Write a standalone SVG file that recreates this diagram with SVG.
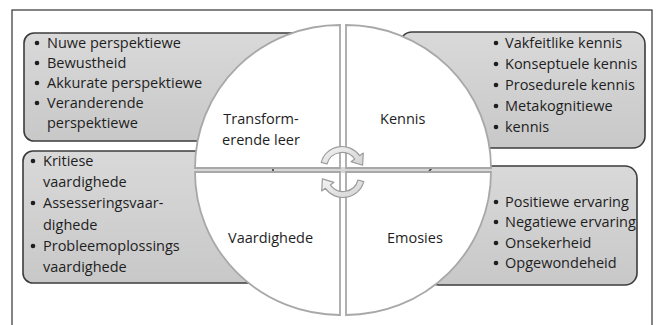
<svg xmlns="http://www.w3.org/2000/svg" width="657" height="325" viewBox="0 0 657 325">
  <defs>
    <linearGradient id="boxFill" x1="0" y1="0" x2="0" y2="1">
      <stop offset="0" stop-color="#d9d9d9"/>
      <stop offset="1" stop-color="#c8c8c8"/>
    </linearGradient>
    <linearGradient id="arrowFill" x1="0" y1="0" x2="1" y2="1">
      <stop offset="0" stop-color="#f4f4f4"/>
      <stop offset="1" stop-color="#d2d2d2"/>
    </linearGradient>
    <style>
      .frame { fill: #ffffff; stroke: #333333; stroke-width: 1.2; }
      .box { fill: url(#boxFill); stroke: #3c3c3c; stroke-width: 1.6; }
      .quad { fill: #ffffff; stroke: #a8a8a8; stroke-width: 1.8; }
      .gap { fill: #d6d6d6; }
      .cycle { fill: url(#arrowFill); stroke: #9c9c9c; stroke-width: 1.2; stroke-linejoin: round; }
      text { font-family: "Open Sans", "Liberation Sans", sans-serif; font-size: 14.5px; fill: #1e1e1e; }
      .mid { text-anchor: middle; }
      .dot { fill: #1e1e1e; }
    </style>
  </defs>

  <!-- outer frame, open at the bottom edge -->
  <rect class="frame" x="12" y="10" width="640" height="330"/>

  <!-- seam showing between the upper and lower halves of the circle -->
  <rect class="gap" x="195" y="167" width="297" height="6"/>

  <!-- detail boxes behind the circle -->
  <g id="box-transformerende-leer">
    <rect class="box" x="24" y="33" width="300" height="108" rx="10"/>
    <circle class="dot" cx="37" cy="43" r="2.3"/>
    <text x="47" y="48">Nuwe perspektiewe</text>
    <circle class="dot" cx="37" cy="63" r="2.3"/>
    <text x="47" y="68">Bewustheid</text>
    <circle class="dot" cx="37" cy="83" r="2.3"/>
    <text x="47" y="88">Akkurate perspektiewe</text>
    <circle class="dot" cx="37" cy="103" r="2.3"/>
    <text x="47" y="108">Veranderende</text>
    <text x="47" y="128">perspektiewe</text>
  </g>

  <g id="box-kennis">
    <rect class="box" x="400" y="32" width="245" height="116" rx="12"/>
    <circle class="dot" cx="496" cy="43" r="2.3"/>
    <text x="505" y="48">Vakfeitlike kennis</text>
    <circle class="dot" cx="496" cy="64" r="2.3"/>
    <text x="505" y="69">Konseptuele kennis</text>
    <circle class="dot" cx="496" cy="85" r="2.3"/>
    <text x="505" y="90">Prosedurele kennis</text>
    <circle class="dot" cx="496" cy="106" r="2.3"/>
    <text x="505" y="111">Metakognitiewe</text>
    <circle class="dot" cx="496" cy="127" r="2.3"/>
    <text x="505" y="132">kennis</text>
  </g>

  <g id="box-vaardighede">
    <rect class="box" x="23" y="151" width="250" height="132" rx="10"/>
    <circle class="dot" cx="33" cy="161" r="2.3"/>
    <text x="43" y="166">Kritiese</text>
    <text x="43" y="187">vaardighede</text>
    <circle class="dot" cx="33" cy="203" r="2.3"/>
    <text x="43" y="208">Assesseringsvaar-</text>
    <text x="43" y="230">dighede</text>
    <circle class="dot" cx="33" cy="246" r="2.3"/>
    <text x="43" y="251">Probleemoplossings</text>
    <text x="43" y="272">vaardighede</text>
  </g>

  <g id="box-emosies">
    <rect class="box" x="427" y="166" width="210" height="119" rx="12"/>
    <circle class="dot" cx="496" cy="202" r="2.3"/>
    <text x="505" y="207">Positiewe ervaring</text>
    <circle class="dot" cx="496" cy="222" r="2.3"/>
    <text x="505" y="227">Negatiewe ervaring</text>
    <circle class="dot" cx="496" cy="243" r="2.3"/>
    <text x="505" y="248">Onsekerheid</text>
    <circle class="dot" cx="496" cy="263" r="2.3"/>
    <text x="505" y="268">Opgewondeheid</text>
  </g>

  <!-- four quadrants of the circle -->
  <g id="transformerende-leer">
    <path class="quad" d="M340,168 L195,168 A145,143 0 0 1 340,25 Z"/>
    <text class="mid" x="261" y="124">Transform-</text>
    <text class="mid" x="261" y="145">erende leer</text>
  </g>
  <g id="kennis">
    <path class="quad" d="M346,168 L346,25 A145,143 0 0 1 491,168 Z"/>
    <text x="380" y="124">Kennis</text>
  </g>
  <g id="vaardighede">
    <path class="quad" d="M340,172 L340,315 A145,143 0 0 1 195,172 Z"/>
    <text x="228" y="243">Vaardighede</text>
  </g>
  <g id="emosies">
    <path class="quad" d="M346,172 L491,172 A145,143 0 0 1 346,315 Z"/>
    <text x="387" y="243">Emosies</text>
  </g>

  <!-- cycle arrows in the middle -->
  <g id="connectors">
    <path class="cycle" d="M321.23,162.44 A21.5,21.5 0 0 1 359.61,155.66 L363.29,153.08 L362.6,165.2 L351.01,161.69 L354.69,159.10 A15.5,15.5 0 0 0 327.03,163.99 Z"/>
    <path class="cycle" d="M363.77,181.56 A21.5,21.5 0 0 1 325.39,188.34 L321.71,190.92 L322.40,178.84 L333.99,182.31 L330.31,184.90 A15.5,15.5 0 0 0 357.97,180.01 Z"/>
  </g>
</svg>
